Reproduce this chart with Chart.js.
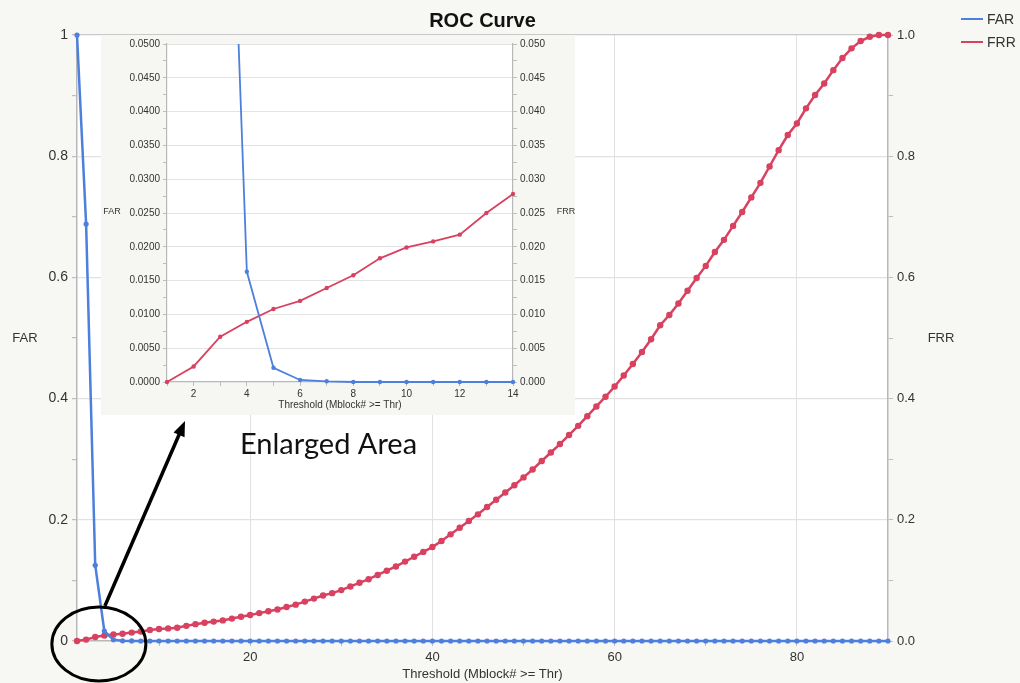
<!DOCTYPE html>
<html>
<head>
<meta charset="utf-8">
<script src="https://cdn.jsdelivr.net/npm/chart.js@4.4.0/dist/chart.umd.min.js"></script>
<style>
html,body{margin:0;padding:0;background:#f7f7f4;}
#wrap{position:relative;width:1020px;height:683px;overflow:hidden;background:#f7f7f4;}
#main{position:absolute;left:0;top:0;}
#insetBox{position:absolute;left:101px;top:35px;width:474px;height:380px;background:#f6f6f3;}
#inset{position:absolute;left:0;top:0;}
</style>
</head>
<body>
<div id="wrap">
  <canvas id="main" width="1020" height="683"></canvas>
  <div id="insetBox"><canvas id="inset" width="474" height="380"></canvas></div>
</div>
<script>
// ---------------- DATA ----------------
const thresholds = [1,2,3,4,5,6,7,8,9,10,11,12,13,14,15,16,17,18,19,20,21,22,23,24,25,26,27,28,29,30,
  31,32,33,34,35,36,37,38,39,40,41,42,43,44,45,46,47,48,49,50,51,52,53,54,55,56,57,58,59,60,
  61,62,63,64,65,66,67,68,69,70,71,72,73,74,75,76,77,78,79,80,81,82,83,84,85,86,87,88,89,90];

const farValues = [1.0,0.688,0.125,0.0163,0.0021,0.0003,0.0001,0,0,0,0,0,0,0,0,0,0,0,0,0,0,0,0,0,0,0,0,0,0,0,
  0,0,0,0,0,0,0,0,0,0,0,0,0,0,0,0,0,0,0,0,0,0,0,0,0,0,0,0,0,0,
  0,0,0,0,0,0,0,0,0,0,0,0,0,0,0,0,0,0,0,0,0,0,0,0,0,0,0,0,0,0];

const frrValues = [0,0.0023,0.0067,0.0089,0.0108,0.0120,0.0139,0.0158,0.0183,0.0199,0.0208,0.0218,0.0250,0.0278,0.030,
  0.032,0.034,0.037,0.040,0.043,0.046,0.049,0.052,0.056,0.060,0.065,0.070,0.075,0.079,0.084,
  0.090,0.096,0.102,0.109,0.116,0.123,0.131,0.139,0.147,0.155,0.165,0.176,0.187,0.198,0.209,
  0.221,0.233,0.245,0.257,0.270,0.283,0.297,0.311,0.325,0.340,0.355,0.371,0.387,0.403,0.420,
  0.438,0.457,0.477,0.498,0.521,0.538,0.557,0.578,0.599,0.619,0.642,0.662,0.685,0.708,0.732,
  0.756,0.783,0.810,0.835,0.854,0.879,0.901,0.920,0.942,0.962,0.978,0.990,0.997,1.0,1.0];

const seriesNames = ['FAR','FRR'];
const mainXTickValues = [10,20,30,40,50,60,70,80];
const mainXLabelValues = [20,40,60,80];
const mainYTickValues = [0,0.1,0.2,0.3,0.4,0.5,0.6,0.7,0.8,0.9,1];
const mainYLabelValues = [0,0.2,0.4,0.6,0.8,1];
const mainYLeftLabels = ['0','0.2','0.4','0.6','0.8','1'];
const mainYRightLabels = ['0.0','0.2','0.4','0.6','0.8','1.0'];

const insetCount = 14;
const insetXTickValues = [1,2,3,4,5,6,7,8,9,10,11,12,13,14];
const insetXLabelValues = [2,4,6,8,10,12,14];
const insetYTickValues = [0,0.0025,0.005,0.0075,0.01,0.0125,0.015,0.0175,0.02,0.0225,0.025,
  0.0275,0.03,0.0325,0.035,0.0375,0.04,0.0425,0.045,0.0475,0.05];
const insetYLabelValues = [0,0.005,0.01,0.015,0.02,0.025,0.03,0.035,0.04,0.045,0.05];

const chartTitle = 'ROC Curve';
const xAxisTitle = 'Threshold (Mblock# >= Thr)';
const annotationText = 'Enlarged Area';

// ---------------- STYLE ----------------
const BLUE = '#4d7fdc';
const RED = '#d8415f';
const FONT = "'Liberation Sans', Arial, sans-serif";
Chart.defaults.font.family = FONT;
Chart.defaults.color = '#333';
Chart.defaults.animation = false;

const near = (a, b) => Math.abs(a - b) < 1e-9;
const inList = (v, list) => list.some(x => near(x, v));
const labelFrom = (v, values, labels) => {
  const i = values.findIndex(x => near(x, v));
  return i >= 0 ? labels[i] : '';
};
const setTicks = list => scale => { scale.ticks = list.map(v => ({ value: v })); };
const pts = (xs, ys) => xs.map((x, i) => ({ x: x, y: ys[i] }));

// ---------------- MAIN CHART ----------------
const mainDecor = {
  id: 'mainDecor',
  beforeDraw(chart) {
    const { ctx, chartArea: a } = chart;
    ctx.save();
    ctx.fillStyle = '#ffffff';
    ctx.fillRect(a.left, a.top, a.right - a.left, a.bottom - a.top);
    ctx.restore();
  },
  afterDraw(chart) {
    const { ctx, chartArea: a, scales } = chart;
    const xs = scales.x, ys = scales.y;
    ctx.save();
    // title
    ctx.fillStyle = '#111';
    ctx.font = 'bold 20px ' + FONT;
    ctx.textAlign = 'center';
    ctx.textBaseline = 'middle';
    ctx.fillText(chartTitle, (a.left + a.right) / 2, 21);
    // axis titles
    ctx.fillStyle = '#333';
    ctx.font = '13px ' + FONT;
    ctx.fillText(seriesNames[0], 25, (a.top + a.bottom) / 2);
    ctx.fillText(seriesNames[1], 941, (a.top + a.bottom) / 2);
    ctx.fillText(xAxisTitle, (a.left + a.right) / 2, 674);
    // legend
    const colors = [BLUE, RED];
    ctx.font = '14px ' + FONT;
    ctx.textAlign = 'left';
    [19, 42].forEach((ly, i) => {
      ctx.strokeStyle = colors[i];
      ctx.lineWidth = 2;
      ctx.beginPath(); ctx.moveTo(961, ly); ctx.lineTo(983, ly); ctx.stroke();
      ctx.fillStyle = '#333';
      ctx.fillText(seriesNames[i], 987, ly + 1);
    });
    // ellipse around the enlarged region
    const cx = xs.getPixelForValue(3.4), cy = ys.getPixelForValue(0) + 3;
    ctx.strokeStyle = '#000';
    ctx.lineWidth = 3;
    ctx.beginPath();
    ctx.ellipse(cx, cy, 47, 37, 0, 0, Math.PI * 2);
    ctx.stroke();
    // arrow
    const x0 = cx + 6, y0 = cy - 38;
    const x1 = 185, y1 = 421;
    const ang = Math.atan2(y1 - y0, x1 - x0);
    const head = 15;
    ctx.lineWidth = 3.5;
    ctx.beginPath();
    ctx.moveTo(x0, y0);
    ctx.lineTo(x1 - Math.cos(ang) * head * 0.8, y1 - Math.sin(ang) * head * 0.8);
    ctx.stroke();
    ctx.fillStyle = '#000';
    ctx.beginPath();
    ctx.moveTo(x1, y1);
    ctx.lineTo(x1 - head * Math.cos(ang) + 6 * Math.sin(ang), y1 - head * Math.sin(ang) - 6 * Math.cos(ang));
    ctx.lineTo(x1 - head * Math.cos(ang) - 6 * Math.sin(ang), y1 - head * Math.sin(ang) + 6 * Math.cos(ang));
    ctx.closePath();
    ctx.fill();
    // annotation text
    ctx.fillStyle = '#111';
    ctx.font = '29px Lato, "Open Sans", sans-serif';
    ctx.textAlign = 'left';
    ctx.textBaseline = 'alphabetic';
    ctx.fillText(annotationText, 240, 454);
    ctx.restore();
  }
};

new Chart(document.getElementById('main'), {
  type: 'line',
  data: {
    datasets: [
      { label: seriesNames[0], data: pts(thresholds, farValues), yAxisID: 'y',
        borderColor: BLUE, backgroundColor: BLUE, pointBackgroundColor: BLUE,
        borderWidth: 2.5, pointRadius: 2.6, pointBorderWidth: 0, tension: 0, clip: 8 },
      { label: seriesNames[1], data: pts(thresholds, frrValues), yAxisID: 'y2',
        borderColor: RED, backgroundColor: RED, pointBackgroundColor: RED,
        borderWidth: 2.5, pointRadius: 3.2, pointBorderWidth: 0, tension: 0, clip: 8 }
    ]
  },
  options: {
    responsive: false,
    events: [],
    layout: { padding: { top: 35, left: 0, right: 0, bottom: 0 } },
    plugins: { legend: { display: false }, title: { display: false }, tooltip: { enabled: false } },
    scales: {
      x: {
        type: 'linear', min: 1, max: 90,
        afterBuildTicks: setTicks(mainXTickValues),
        afterFit: s => { s.height = 42; },
        ticks: { autoSkip: false, maxRotation: 0, padding: 4, font: { size: 13 }, color: '#333',
          callback: v => inList(v, mainXLabelValues) ? String(v) : '' },
        grid: { color: c => (c.tick && inList(c.tick.value, mainXLabelValues)) ? '#e1e1e1' : 'rgba(0,0,0,0)',
          tickColor: '#bdbdbd', tickLength: 5, lineWidth: 1 },
        border: { color: '#b8b8b8', width: 1.5 }
      },
      y: {
        position: 'left', min: 0, max: 1,
        afterBuildTicks: setTicks(mainYTickValues),
        afterFit: s => { s.width = 77; },
        ticks: { autoSkip: false, padding: 4, font: { size: 14 }, color: '#333',
          callback: v => labelFrom(v, mainYLabelValues, mainYLeftLabels) },
        grid: { color: c => {
            if (!c.tick) return 'rgba(0,0,0,0)';
            const v = c.tick.value;
            if (near(v, 1)) return '#c9c9c9';
            if (near(v, 0)) return 'rgba(0,0,0,0)';
            return inList(v, mainYLabelValues) ? '#e1e1e1' : 'rgba(0,0,0,0)';
          }, tickColor: '#bdbdbd', tickLength: 5, lineWidth: 1.2 },
        border: { color: '#b8b8b8', width: 1.5 }
      },
      y2: {
        position: 'right', min: 0, max: 1,
        afterBuildTicks: setTicks(mainYTickValues),
        afterFit: s => { s.width = 132; },
        ticks: { autoSkip: false, padding: 4, font: { size: 13 }, color: '#333',
          callback: v => labelFrom(v, mainYLabelValues, mainYRightLabels) },
        grid: { drawOnChartArea: false, tickColor: '#bdbdbd', tickLength: 5 },
        border: { color: '#b8b8b8', width: 1.5 }
      }
    }
  },
  plugins: [mainDecor]
});

// ---------------- INSET CHART ----------------
const insetDecor = {
  id: 'insetDecor',
  beforeDraw(chart) {
    const { ctx, chartArea: a } = chart;
    ctx.save();
    ctx.fillStyle = '#ffffff';
    ctx.fillRect(a.left, a.top, a.right - a.left, a.bottom - a.top);
    ctx.restore();
  },
  afterDraw(chart) {
    const { ctx, chartArea: a } = chart;
    ctx.save();
    ctx.fillStyle = '#333';
    ctx.textAlign = 'center';
    ctx.textBaseline = 'middle';
    ctx.font = '9px ' + FONT;
    ctx.fillText(seriesNames[0], 11, 177);
    ctx.fillText(seriesNames[1], 465, 177);
    ctx.font = '10px ' + FONT;
    ctx.fillText(xAxisTitle, (a.left + a.right) / 2, 370);
    ctx.restore();
  }
};

const insetX = thresholds.slice(0, insetCount);
new Chart(document.getElementById('inset'), {
  type: 'line',
  data: {
    datasets: [
      { label: seriesNames[0], data: pts(insetX, farValues.slice(0, insetCount)), yAxisID: 'y',
        borderColor: BLUE, backgroundColor: BLUE, pointBackgroundColor: BLUE,
        borderWidth: 1.8, pointRadius: 2.2, pointBorderWidth: 0, tension: 0,
        clip: { left: 4, right: 4, top: 0, bottom: 4 } },
      { label: seriesNames[1], data: pts(insetX, frrValues.slice(0, insetCount)), yAxisID: 'y2',
        borderColor: RED, backgroundColor: RED, pointBackgroundColor: RED,
        borderWidth: 1.8, pointRadius: 2.2, pointBorderWidth: 0, tension: 0,
        clip: { left: 4, right: 4, top: 0, bottom: 4 } }
    ]
  },
  options: {
    responsive: false,
    events: [],
    layout: { padding: { top: 5, left: 0, right: 0, bottom: 0 } },
    plugins: { legend: { display: false }, title: { display: false }, tooltip: { enabled: false } },
    scales: {
      x: {
        type: 'linear', min: 1, max: 14,
        afterBuildTicks: setTicks(insetXTickValues),
        afterFit: s => { s.height = 33; },
        ticks: { autoSkip: false, maxRotation: 0, padding: 2, font: { size: 10 }, color: '#333',
          callback: v => inList(v, insetXLabelValues) ? String(v) : '' },
        grid: { color: 'rgba(0,0,0,0)', tickColor: '#bdbdbd', tickLength: 4 },
        border: { color: '#b8b8b8', width: 1.2 }
      },
      y: {
        position: 'left', min: 0, max: 0.05,
        afterBuildTicks: setTicks(insetYTickValues),
        afterFit: s => { s.width = 66; },
        ticks: { autoSkip: false, padding: 3, font: { size: 10 }, color: '#333',
          callback: v => inList(v, insetYLabelValues) ? v.toFixed(4) : '' },
        grid: { color: c => {
            if (!c.tick) return 'rgba(0,0,0,0)';
            const v = c.tick.value;
            if (near(v, 0)) return 'rgba(0,0,0,0)';
            return inList(v, insetYLabelValues) ? '#e3e3e3' : 'rgba(0,0,0,0)';
          }, tickColor: '#bdbdbd', tickLength: 4, lineWidth: 1 },
        border: { color: '#b8b8b8', width: 1.2 }
      },
      y2: {
        position: 'right', min: 0, max: 0.05,
        afterBuildTicks: setTicks(insetYTickValues),
        afterFit: s => { s.width = 62; },
        ticks: { autoSkip: false, padding: 3, font: { size: 10 }, color: '#333',
          callback: v => inList(v, insetYLabelValues) ? v.toFixed(3) : '' },
        grid: { drawOnChartArea: false, tickColor: '#bdbdbd', tickLength: 4 },
        border: { color: '#b8b8b8', width: 1.2 }
      }
    }
  },
  plugins: [insetDecor]
});
</script>
</body>
</html>
